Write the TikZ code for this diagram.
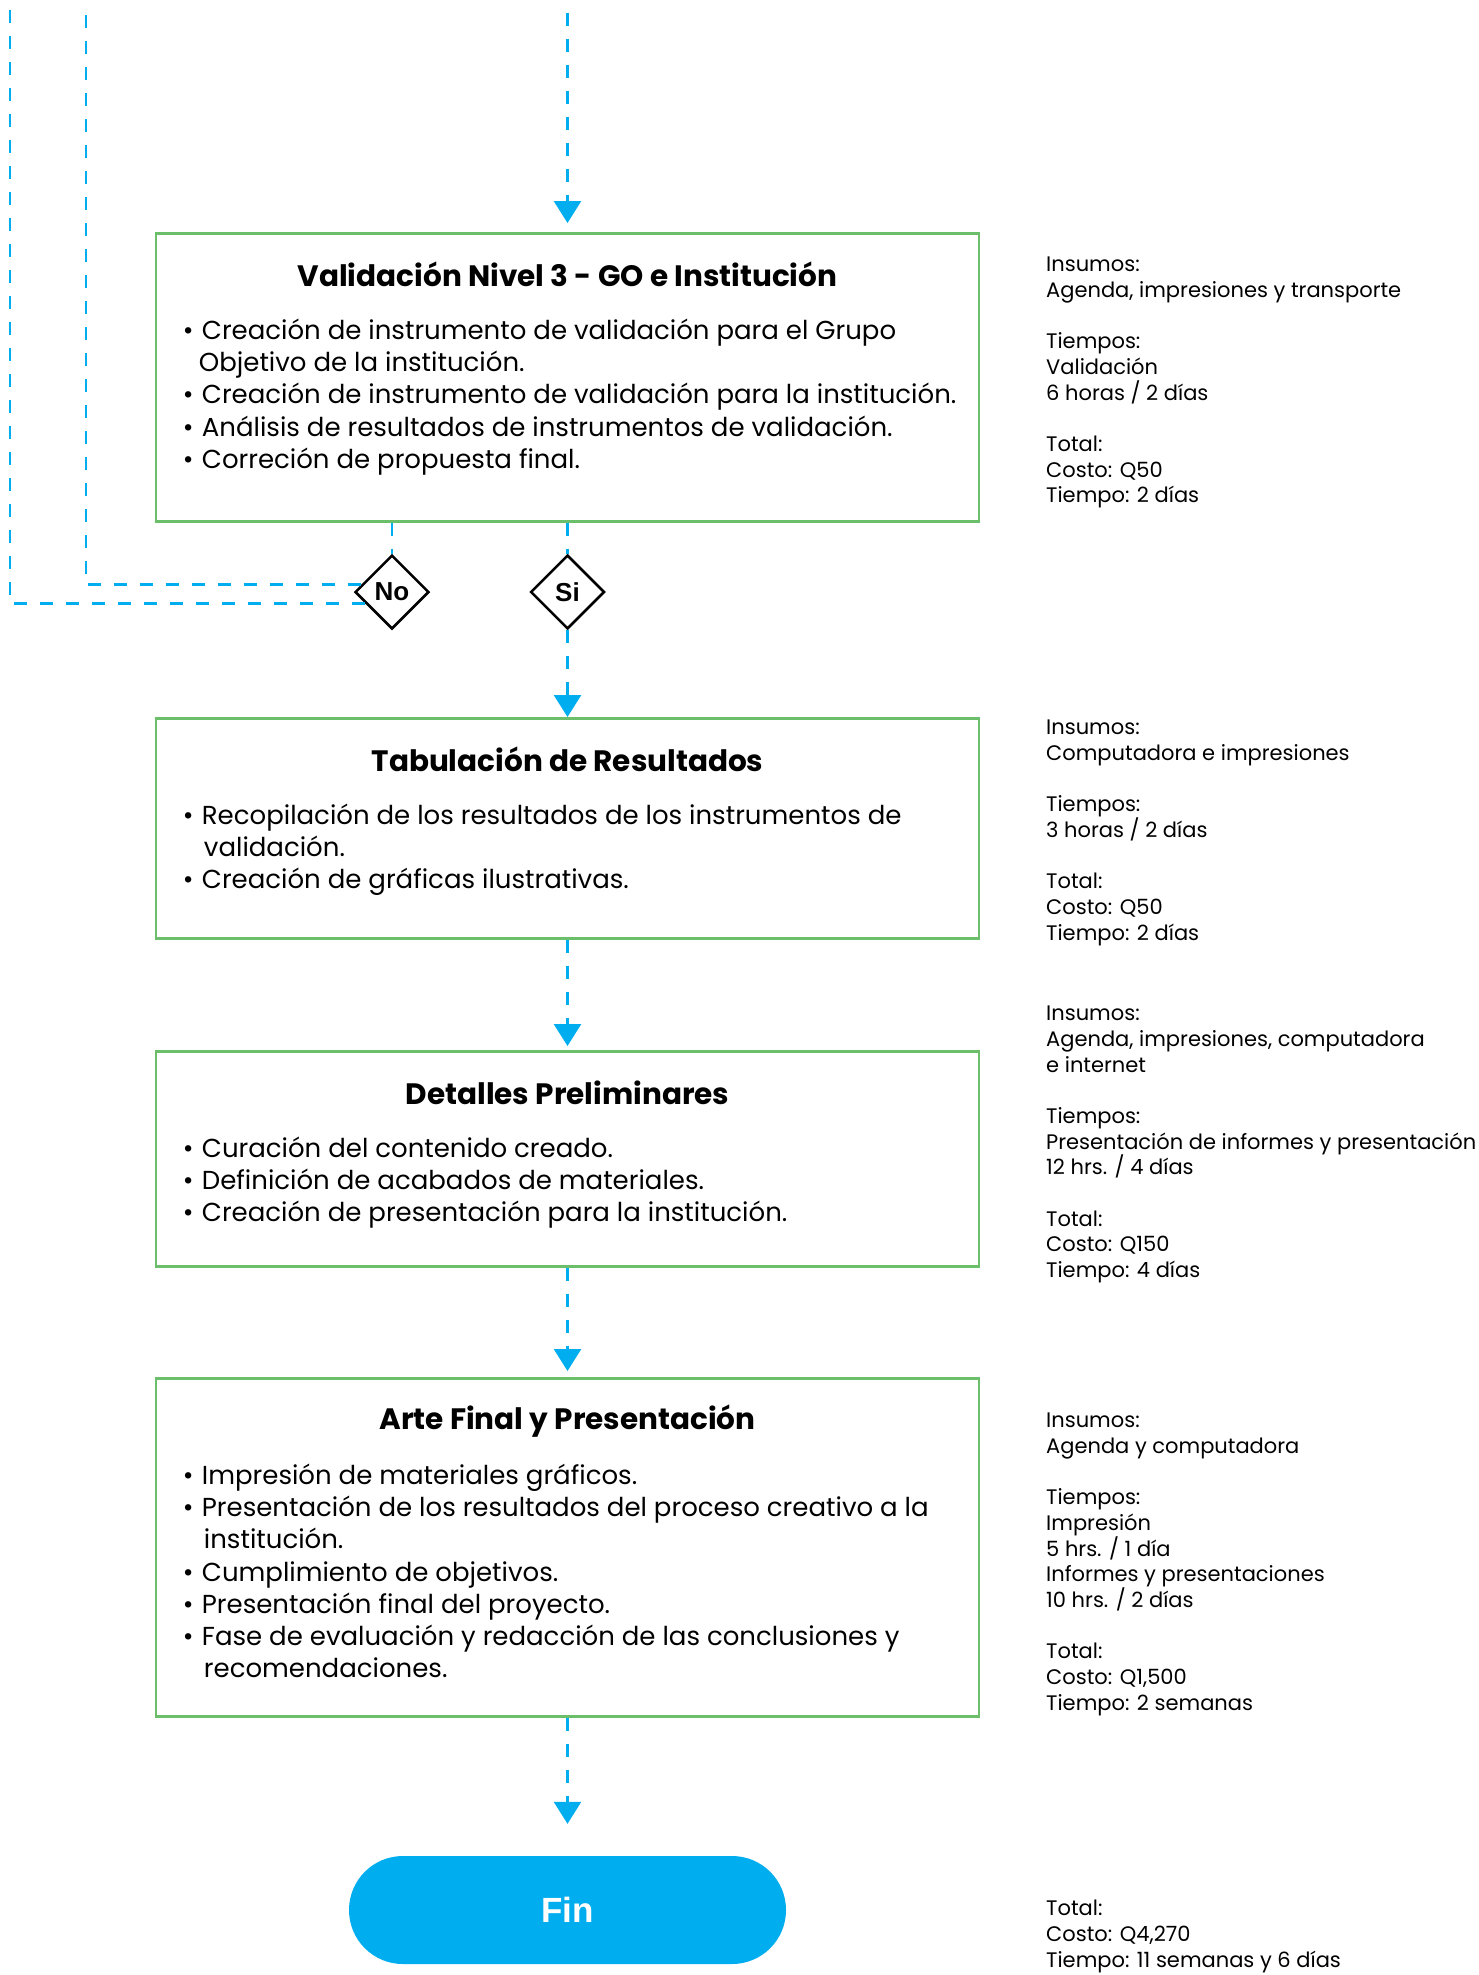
\documentclass[tikz,border=0pt]{standalone}
\usepackage{fontspec}
\setmainfont{Poppins}
\newfontfamily\helv{Liberation Sans}
\usetikzlibrary{shapes.geometric,arrows.meta,positioning,calc}
\definecolor{flujo}{HTML}{00AEEF}
\definecolor{borde}{HTML}{6CBF6A}
\newcommand{\vin}{\makebox[19pt][l]{\textbullet}}
\newcommand{\sig}{\hspace*{21pt}}

\begin{document}
\begin{tikzpicture}[x=1pt,y=-1pt]
\tikzstyle{caja}=[draw=borde,line width=2.5pt,minimum width=823pt,anchor=north,inner sep=0pt];
\tikzstyle{titulo}=[inner sep=0pt,font=\bfseries\fontsize{29.5}{34}\selectfont];
\tikzstyle{lista}=[anchor=north west,align=left,inner sep=0pt,font=\fontsize{26}{32.1}\selectfont];
\tikzstyle{nota}=[anchor=north west,align=left,inner sep=0pt,font=\fontsize{21}{25.66}\selectfont];
\tikzstyle{linea}=[draw=flujo,line width=2.7pt,dash pattern=on 13pt off 13pt];
\tikzstyle{flecha}=[linea,-{Triangle[width=27pt,length=22pt]}];
\tikzstyle{decision}=[draw,diamond,line width=2.5pt,minimum width=74pt,minimum height=74pt,inner sep=0pt,font=\helv\bfseries\fontsize{26}{26}\selectfont];
\useasboundingbox (0,0) rectangle (1478,1975);

% cajas
\node[caja,minimum height=288pt] (val) at (567.5,232) {};
\node[caja,minimum height=220pt] (tab) at (567.5,717) {};
\node[caja,minimum height=215pt] (det) at (567.5,1050) {};
\node[caja,minimum height=338pt] (arte) at (567.5,1377) {};
\node[fill=flujo,rounded corners=53.9pt,minimum width=437pt,minimum height=108pt,text=white,font=\helv\bfseries\fontsize{35}{35}\selectfont] (fin) at (567.5,1910) {Fin};

% titulos
\node[titulo] (valt) at ($(val.north)+(0,42)$) {Validación Nivel 3 - GO e Institución};
\node[titulo] (tabt) at ($(tab.north)+(0,42)$) {Tabulación de Resultados};
\node[titulo] (dett) at ($(det.north)+(0,43)$) {Detalles Preliminares};
\node[titulo] (artet) at ($(arte.north)+(0,44)$) {Arte Final y Presentación};

% listas
\node[lista] (vall) at ($(val.north west)+(28,87)$) {\vin Creación de instrumento de validación para el Grupo\\
\hspace*{16pt}Objetivo de la institución.\\
\vin Creación de instrumento de validación para la institución.\\
\vin Análisis de resultados de instrumentos de validación.\\
\vin Correción de propuesta final.};
\node[lista] (tabl) at ($(tab.north west)+(28,87)$) {\vin Recopilación de los resultados de los instrumentos de\\
\sig validación.\\
\vin Creación de gráficas ilustrativas.};
\node[lista] (detl) at ($(det.north west)+(28,87)$) {\vin Curación del contenido creado.\\
\vin Definición de acabados de materiales.\\
\vin Creación de presentación para la institución.};
\node[lista] (artel) at ($(arte.north west)+(28,87)$) {\vin Impresión de materiales gráficos.\\
\vin Presentación de los resultados del proceso creativo a la\\
\sig institución.\\
\vin Cumplimiento de objetivos.\\
\vin Presentación final del proyecto.\\
\vin Fase de evaluación y redacción de las conclusiones y\\
\sig recomendaciones.};

% decisiones
\node[decision] (no) at (392,592) {No};
\node[decision] (si) at (567.5,592) {Si};

% notas
\node[nota] (n1) at (1046,257) {Insumos:\\Agenda, impresiones y transporte\\[25.66pt]
Tiempos:\\Validación\\6 horas / 2 días\\[25.66pt]
Total:\\Costo: Q50\\Tiempo: 2 días};
\node[nota] (n2) at (1046,720) {Insumos:\\Computadora e impresiones\\[25.66pt]
Tiempos:\\3 horas / 2 días\\[25.66pt]
Total:\\Costo: Q50\\Tiempo: 2 días};
\node[nota] (n3) at (1046,1006) {Insumos:\\Agenda, impresiones, computadora\\e internet\\[25.66pt]
Tiempos:\\Presentación de informes y presentación\\12 hrs. / 4 días\\[25.66pt]
Total:\\Costo: Q150\\Tiempo: 4 días};
\node[nota] (n4) at (1046,1413) {Insumos:\\Agenda y computadora\\[25.66pt]
Tiempos:\\Impresión\\5 hrs. / 1 día\\Informes y presentaciones\\10 hrs. / 2 días\\[25.66pt]
Total:\\Costo: Q1,500\\Tiempo: 2 semanas};
\node[nota] (n5) at (1046,1900) {Total:\\Costo: Q4,270\\Tiempo: 11 semanas y 6 días};

% conectores
\coordinate (ini) at (567.5,13);
\coordinate (rega) at (86,9);
\coordinate (regb) at (10,9);
\draw[flecha,shorten >=9pt] (ini) -- (val.north);
\draw[linea] (val.south -| no) -- (no.north);
\draw[linea] (val.south) -- (si.north);
\draw[linea] ($(no.west)!0.19!(no.north)$) -| (rega);
\draw[linea] ($(no.west)!0.3!(no.south)$) -| (regb);
\draw[flecha] (si.south) -- (tab.north);
\draw[flecha,shorten >=4pt] (tab.south) -- (det.north);
\draw[flecha,shorten >=6pt] (det.south) -- (arte.north);
\draw[flecha,shorten >=32pt] (arte.south) -- (fin.north);
\end{tikzpicture}
\end{document}
